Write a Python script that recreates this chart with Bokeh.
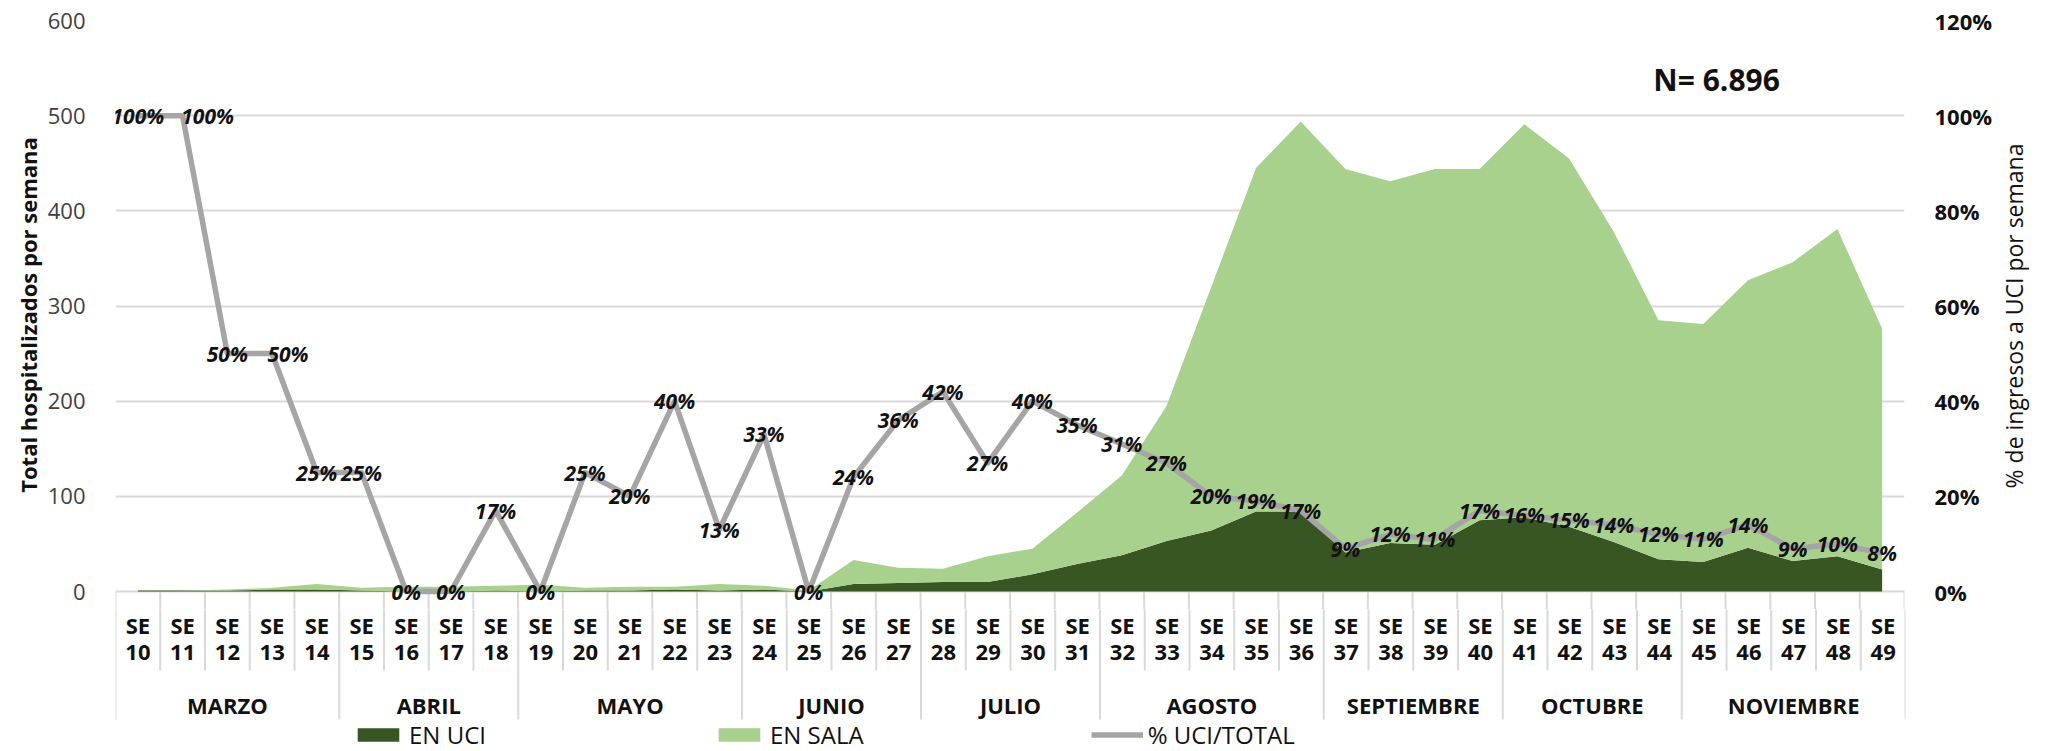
import math
from bokeh.plotting import figure
from bokeh.layouts import column, row
from bokeh.models import (Range1d, LinearAxis, FixedTicker, NumeralTickFormatter,
                          ColumnDataSource, Label, Legend, LegendItem)
from bokeh.core.properties import value
from bokeh.embed import file_html
from bokeh.resources import INLINE

# ---------------- data ----------------
weeks = list(range(10, 50))
months = ["MARZO", "ABRIL", "MAYO", "JUNIO", "JULIO", "AGOSTO",
          "SEPTIEMBRE", "OCTUBRE", "NOVIEMBRE"]
weeks_per_month = [5, 4, 5, 4, 4, 5, 4, 4, 5]
en_uci = [1, 1, 1, 2, 2, 1, 0, 0, 1, 0, 1, 1, 2, 1, 2, 0,
          8, 9, 10, 10, 18, 29, 38, 53, 64, 84, 84, 41, 51, 49,
          75, 78, 68, 52, 34, 31, 46, 32, 37, 23]
en_sala = [0, 0, 1, 2, 6, 3, 5, 5, 5, 7, 3, 4, 3, 7, 4, 1,
           25, 16, 14, 27, 27, 54, 84, 142, 256, 361, 410, 403, 380, 395,
           369, 413, 387, 326, 251, 250, 281, 314, 344, 253]
pct_uci = [1.00, 1.00, 0.50, 0.50, 0.25, 0.25, 0.00, 0.00, 0.17, 0.00,
           0.25, 0.20, 0.40, 0.13, 0.33, 0.00, 0.24, 0.36, 0.42, 0.27,
           0.40, 0.35, 0.31, 0.27, 0.20, 0.19, 0.17, 0.09, 0.12, 0.11,
           0.17, 0.16, 0.15, 0.14, 0.12, 0.11, 0.14, 0.09, 0.10, 0.08]
left_ticks = [0, 100, 200, 300, 400, 500, 600]
right_ticks = [0.0, 0.2, 0.4, 0.6, 0.8, 1.0, 1.2]
n_text = "N= 6.896"
left_title = "Total hospitalizados por semana"
right_title = "% de ingresos a UCI por semana"
legend_labels = ["EN UCI", "EN SALA", "% UCI/TOTAL"]

# ---------------- layout ----------------
W, H = 2045, 751
P_W = 1995                       # main figure width; a slim strip holds the right title
FRAME_L, FRAME_R = 115, 1905
FRAME_T, BASE = 20, 591
TOP_H = 609
n = len(weeks)
px_per_unit = (BASE - FRAME_T) / 600.0
px_per_cat = (FRAME_R - FRAME_L) / n
y_low = -(TOP_H - BASE) / px_per_unit


def yd(page_y):
    return (BASE - page_y) / px_per_unit


label_dx = [0] * n
label_dx[1] = 25
label_dx[3] = 16

DARK = "#375623"
LIGHT = "#a9d18e"
LINE = "#a5a5a5"
GRID = "#d9d9d9"
FONT = "Open Sans"
INK = "#111111"

x_range = Range1d(0, n)

bounds = [0]
for c in weeks_per_month:
    bounds.append(bounds[-1] + c)
minor = [k for k in range(1, n) if k not in bounds]

xs = [i + 0.5 for i in range(n)]
total = [u + s for u, s in zip(en_uci, en_sala)]
src = ColumnDataSource(dict(x=xs, uci=en_uci, total=total, pct=pct_uci,
                            lbl=[f"{round(v * 100)}%" for v in pct_uci],
                            dx=label_dx))

# ================= top figure: plot area =================
p = figure(width=P_W, height=TOP_H, x_range=x_range, y_range=Range1d(y_low, 600),
           output_backend="svg", toolbar_location=None, x_axis_location=None,
           min_border_left=FRAME_L, min_border_right=P_W - FRAME_R,
           min_border_top=FRAME_T, min_border_bottom=0, outline_line_color=None,
           background_fill_color="white", border_fill_color="white")
p.extra_y_ranges = {"pct": Range1d(y_low / 500.0, 1.2)}

ya = p.yaxis[0]
ya.ticker = FixedTicker(ticks=left_ticks)
ya.axis_line_color = None
ya.major_tick_line_color = None
ya.minor_tick_line_color = None
ya.major_label_standoff = 24
ya.major_label_text_font = FONT
ya.major_label_text_font_size = "22px"
ya.major_label_text_color = "#404040"
ya.axis_label = left_title
ya.axis_label_text_font = FONT
ya.axis_label_text_font_style = "bold"
ya.axis_label_text_font_size = "22px"
ya.axis_label_text_color = INK
ya.axis_label_standoff = 2

p.ygrid.ticker = FixedTicker(ticks=left_ticks)
p.ygrid.grid_line_color = GRID
p.ygrid.grid_line_width = 2
p.xgrid.visible = False

ra = LinearAxis(y_range_name="pct", ticker=FixedTicker(ticks=right_ticks),
                formatter=NumeralTickFormatter(format="0%"))
ra.axis_line_color = None
ra.major_tick_line_color = None
ra.minor_tick_line_color = None
ra.major_label_standoff = 24
ra.major_label_text_font = FONT
ra.major_label_text_font_size = "22px"
ra.major_label_text_font_style = "bold"
ra.major_label_text_color = INK
p.add_layout(ra, "right")

# category dividers (upper part, continued in the lower figure)
p.segment(x0=minor, y0=[0] * len(minor), x1=minor, y1=[y_low * 2] * len(minor),
          line_color=GRID, line_width=2)
p.segment(x0=bounds, y0=[0] * len(bounds), x1=bounds, y1=[y_low * 2] * len(bounds),
          line_color=GRID, line_width=2)

p.varea(x="x", y1=0, y2="uci", source=src, fill_color=DARK)
p.varea(x="x", y1="uci", y2="total", source=src, fill_color=LIGHT)
p.line("x", "pct", source=src, y_range_name="pct", line_color=LINE,
       line_width=5.5, line_join="round")
p.text("x", "pct", text="lbl", source=src, y_range_name="pct", x_offset="dx",
       text_font=value(FONT), text_font_style="bold italic", text_font_size="21px",
       text_align="center", text_baseline="middle", text_color=INK)

p.add_layout(Label(x=(1717 - FRAME_L) / px_per_cat, y=yd(79), text=n_text,
                   text_font=FONT, text_font_style="bold", text_font_size="30px",
                   text_align="center", text_baseline="middle", text_color=INK))

# ================= right strip: secondary axis title =================
rf = figure(width=W - P_W, height=TOP_H, x_range=Range1d(0, W - P_W),
            y_range=Range1d(TOP_H, 0), output_backend="svg", toolbar_location=None,
            x_axis_location=None, y_axis_location=None,
            min_border_left=0, min_border_right=0, min_border_top=0,
            min_border_bottom=0, outline_line_color=None,
            background_fill_color="white", border_fill_color="white")
rf.xgrid.visible = False
rf.ygrid.visible = False
rf.text(x=[2013 - P_W], y=[(FRAME_T + BASE) / 2.0], text=[right_title],
        angle=math.pi / 2, text_font=value(FONT), text_font_size="23px",
        text_align="center", text_baseline="middle", text_color=INK)

# ================= bottom figure: category axis + legend =================
BOT_H = H - TOP_H
q = figure(width=W, height=BOT_H, x_range=x_range,
           y_range=Range1d(H - BASE, TOP_H - BASE),
           output_backend="svg", toolbar_location=None,
           x_axis_location=None, y_axis_location=None,
           min_border_left=FRAME_L, min_border_right=W - FRAME_R,
           min_border_top=0, min_border_bottom=0, outline_line_color=None,
           background_fill_color="white", border_fill_color="white")
q.xgrid.visible = False
q.ygrid.visible = False
q.extra_y_ranges = {"offview": Range1d(5000, 6000)}

q.segment(x0=minor, y0=[0] * len(minor), x1=minor, y1=[670 - BASE] * len(minor),
          line_color=GRID, line_width=2)
q.segment(x0=bounds, y0=[0] * len(bounds), x1=bounds, y1=[719 - BASE] * len(bounds),
          line_color=GRID, line_width=2)
q.text(x=xs, y=[624 - BASE] * n, text=["SE"] * n, text_font=value(FONT),
       text_font_style="bold", text_font_size="22px", text_align="center",
       text_baseline="middle", text_color=INK)
q.text(x=xs, y=[652 - BASE] * n, text=[str(w) for w in weeks], text_font=value(FONT),
       text_font_style="bold", text_font_size="22px", text_align="center",
       text_baseline="middle", text_color=INK)
mx = [(bounds[i] + bounds[i + 1]) / 2.0 for i in range(len(months))]
q.text(x=mx, y=[704 - BASE] * len(months), text=months, text_font=value(FONT),
       text_font_style="bold", text_font_size="22px", text_align="center",
       text_baseline="middle", text_color=INK)

# legend renderers: same series and styles, on a range that keeps them out of view
l_uci = q.varea(x="x", y1=0, y2="uci", source=src, y_range_name="offview",
                fill_color=DARK)
l_sala = q.varea(x="x", y1="uci", y2="total", source=src, y_range_name="offview",
                 fill_color=LIGHT)
l_line = q.line("x", "pct", source=src, y_range_name="offview", line_color=LINE,
                line_width=5.5)

legend = Legend(items=[LegendItem(label=legend_labels[0], renderers=[l_uci]),
                       LegendItem(label=legend_labels[1], renderers=[l_sala]),
                       LegendItem(label=legend_labels[2], renderers=[l_line])],
                orientation="horizontal", location=(352 - FRAME_L, 0), spacing=227,
                glyph_width=52, glyph_height=17, label_standoff=5,
                label_text_font=FONT, label_text_font_size="24px",
                label_text_color=INK, padding=0, margin=0,
                border_line_color=None, background_fill_alpha=0)
q.add_layout(legend, "center")

layout = column(row(p, rf, spacing=0), q, spacing=0)
open("out.html", "w").write(file_html(layout, INLINE))
